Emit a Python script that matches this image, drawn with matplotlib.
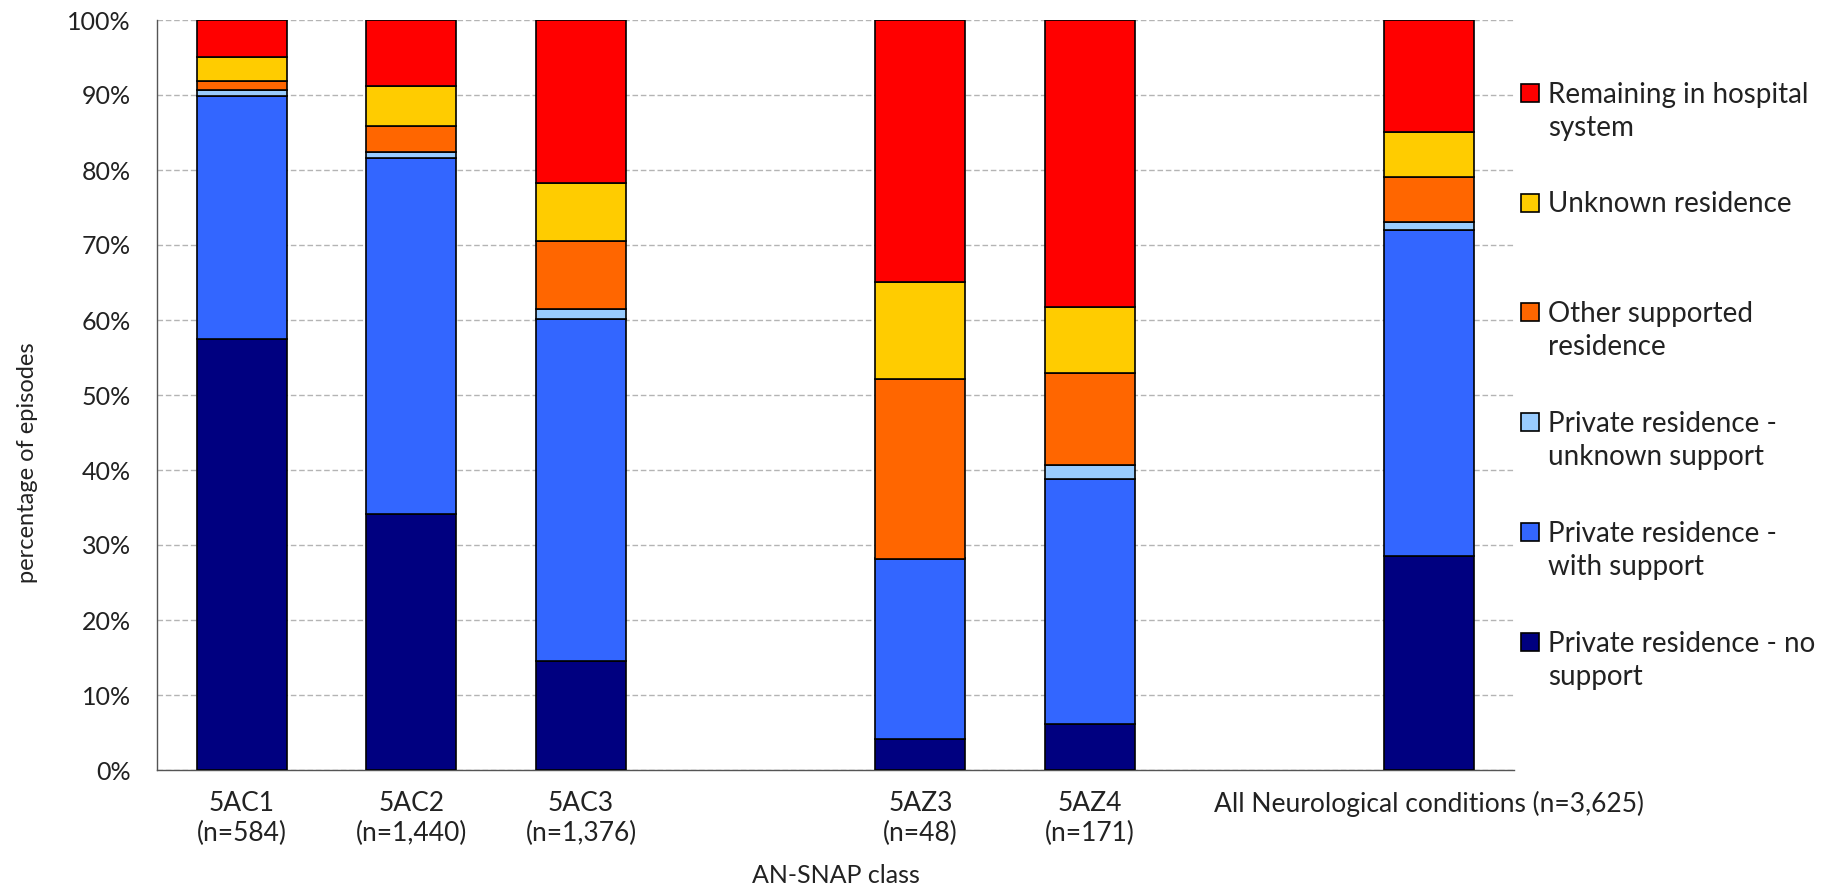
import numpy as np
import matplotlib.pyplot as plt
from matplotlib.patches import Rectangle
from matplotlib.ticker import PercentFormatter

plt.rcParams['font.family'] = ['Lato', 'DejaVu Sans']

W, H = 1821, 896

categories = ['5AC1\n(n=584)', '5AC2\n(n=1,440)', '5AC3\n(n=1,376)',
              '5AZ3\n(n=48)', '5AZ4\n(n=171)',
              'All Neurological conditions (n=3,625)']
slots = [0, 1, 2, 4, 5, 7]  # empty slots between the groups

series_names = ['Private residence - no\nsupport',
                'Private residence -\nwith support',
                'Private residence -\nunknown support',
                'Other supported\nresidence',
                'Unknown residence',
                'Remaining in hospital\nsystem']
colors = ['#000080', '#3366FF', '#99CCFF', '#FF6600', '#FFCC00', '#FF0000']

no_support = [57.4, 34.1, 14.6, 4.2, 6.2, 28.5]
with_support = [32.5, 47.5, 45.5, 24.0, 32.6, 43.5]
unknown_support = [0.8, 0.8, 1.3, 0.0, 1.8, 1.1]
other_supported = [1.1, 3.5, 9.1, 23.9, 12.3, 5.9]
unknown_residence = [3.2, 5.3, 7.7, 13.0, 8.8, 6.1]
remaining = [5.0, 8.8, 21.8, 34.9, 38.3, 14.9]

series = [no_support, with_support, unknown_support,
          other_supported, unknown_residence, remaining]

fig = plt.figure(figsize=(W / 100, H / 100), dpi=100)
ax = fig.add_axes([157 / W, 126 / H, (1514 - 157) / W, 750 / H])

bottom = np.zeros(len(categories))
for vals, col in zip(series, colors):
    ax.bar(slots, vals, width=0.53, bottom=bottom, color=col,
           edgecolor='black', linewidth=1.2, zorder=3)
    bottom += np.array(vals)

ax.set_xlim(-0.5, 7.5)
ax.set_ylim(0, 100)
ax.set_yticks(np.arange(0, 101, 10))
ax.yaxis.set_major_formatter(PercentFormatter(decimals=0))
ax.set_xticks(slots)
ax.set_xticklabels(categories, linespacing=1.25)
ax.tick_params(axis='x', length=0, pad=15, labelsize=19, colors='#222222')
ax.tick_params(axis='y', length=0, pad=19, labelsize=18, colors='#222222')

ax.grid(axis='y', color='#b4b4b4', linestyle=(0, (4, 2)), linewidth=1.0)
ax.set_axisbelow(True)
for s in ['top', 'right']:
    ax.spines[s].set_visible(False)
for s in ['left', 'bottom']:
    ax.spines[s].set_color('#555555')
    ax.spines[s].set_linewidth(1.0)

ax.set_ylabel('percentage of episodes', fontsize=17, color='#222222')
ax.yaxis.set_label_coords(-0.088, 0.41)
ax.set_xlabel('AN-SNAP class', fontsize=18, color='#222222', labelpad=13)

# legend drawn by hand so the swatch lines up with the first text line
for i, (name, col) in enumerate(zip(series_names[::-1], colors[::-1])):
    yc = 92.7 + i * 109.8
    fig.patches.append(Rectangle((1521 / W, 1 - (yc + 9) / H), 18 / W, 18 / H,
                                 facecolor=col, edgecolor='black', linewidth=1.2,
                                 transform=fig.transFigure, figure=fig))
    for k, line in enumerate(name.split('\n')):
        fig.text(1548 / W, 1 - (yc + 10 + k * 33) / H, line, fontsize=20,
                 va='baseline', ha='left', color='#222222')

fig.savefig('out.png', dpi=100)
